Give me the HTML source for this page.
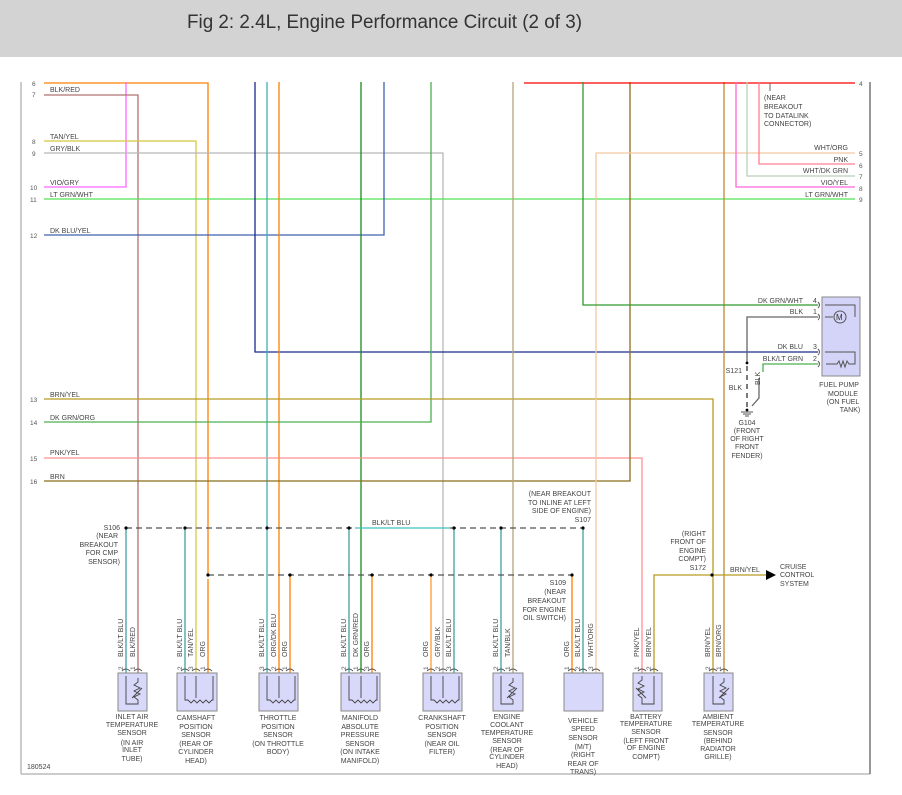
<!DOCTYPE html>
<html><head><meta charset="utf-8"><style>
body{margin:0;background:#fff;}
svg{display:block;font-family:"Liberation Sans",sans-serif;}
.t{font-size:7px;fill:#444;}
.n{font-size:6.5px;fill:#555;}
.s{font-size:7px;fill:#444;text-anchor:middle;}
</style></head><body>
<svg width="902" height="795" viewBox="0 0 902 795" xmlns="http://www.w3.org/2000/svg">
<rect x="0" y="0" width="902" height="57" fill="#d3d3d3"/>
<text x="187" y="28" font-size="19" fill="#333" style="font-family:'Liberation Sans Narrow','Liberation Sans',sans-serif" textLength="395" lengthAdjust="spacingAndGlyphs">Fig 2: 2.4L, Engine Performance Circuit (2 of 3)</text>
<!-- frame -->
<line x1="21" y1="82" x2="21" y2="774" stroke="#bbb" stroke-width="1.5"/>
<line x1="21" y1="774" x2="870" y2="774" stroke="#bbb" stroke-width="1.5"/>
<line x1="870" y1="82" x2="870" y2="774" stroke="#555" stroke-width="1.2"/>
<g fill="none" stroke-width="1.3">
<!-- left rows -->
<polyline points="44,83 208,83 208,575" stroke="#ff8000"/>
<polyline points="208,579 208,673" stroke="#ff8000"/>
<polyline points="126,82 126,187 44,187" stroke="#ff66ff"/>
<polyline points="44,95 138,95 138,673" stroke="#b07070"/>
<polyline points="44,141 196,141 196,673" stroke="#d8c840"/>
<polyline points="44,153 443,153 443,673" stroke="#b8b8b8"/>
<line x1="44" y1="199" x2="855" y2="199" stroke="#55e055"/>
<polyline points="44,235 384,235 384,82" stroke="#4060b0"/>
<polyline points="255,82 255,352 818,352" stroke="#1a2a8a"/>
<line x1="267" y1="82" x2="267" y2="673" stroke="#40b0b0"/>
<line x1="279" y1="82" x2="279" y2="673" stroke="#ff8000"/>
<line x1="361" y1="82" x2="361" y2="673" stroke="#1a8a1a"/>
<polyline points="431,82 431,422 44,422" stroke="#4caf50"/>
<polyline points="44,399 713,399 713,673" stroke="#b89a20"/>
<polyline points="44,458 642,458 642,673" stroke="#ff9090"/>
<polyline points="44,481 630,481 630,82" stroke="#8a6d1a"/>
<line x1="513" y1="82" x2="513" y2="673" stroke="#b5a57a"/>
<polyline points="596,673 596,153 855,153" stroke="#f5c8a0"/>
<line x1="724" y1="82" x2="724" y2="673" stroke="#c08a30"/>
<!-- right rows -->
<line x1="524" y1="83" x2="855" y2="83" stroke="#ff0000"/>
<polyline points="583,82 583,305 818,305" stroke="#2e9a2e"/>
<polyline points="736,82 736,187 855,187" stroke="#ff66dd"/>
<polyline points="747,82 747,176 855,176" stroke="#b8d0b8"/>
<polyline points="759,82 759,164 855,164" stroke="#ff8090"/>
<line x1="770" y1="83" x2="770" y2="91" stroke="#666" stroke-width="1"/>
<!-- fuel pump -->
<polyline points="818,317 747,317 747,362" stroke="#666"/>
<line x1="747" y1="366" x2="747" y2="408" stroke="#333" stroke-dasharray="5,4"/>
<polyline points="818,364 763,364 763,372" stroke="#4caf50"/>
<polyline points="759,378 759,398 752,406" stroke="#666"/>
<!-- bottom verticals -->
<line x1="126" y1="528" x2="126" y2="673" stroke="#40a0a0"/>
<line x1="185" y1="528" x2="185" y2="673" stroke="#40a0a0"/>
<line x1="290" y1="575" x2="290" y2="673" stroke="#ff8000"/>
<line x1="349" y1="528" x2="349" y2="673" stroke="#40a0a0"/>
<line x1="372" y1="575" x2="372" y2="673" stroke="#ff8000"/>
<line x1="431" y1="575" x2="431" y2="673" stroke="#ff9a30"/>
<line x1="454" y1="528" x2="454" y2="673" stroke="#40a0a0"/>
<line x1="501" y1="528" x2="501" y2="673" stroke="#40a0a0"/>
<line x1="572" y1="575" x2="572" y2="673" stroke="#ff8000"/>
<line x1="583" y1="528" x2="583" y2="673" stroke="#40a0a0"/>
<polyline points="654,673 654,575 767,575" stroke="#b89a20"/>
<!-- buses -->
<line x1="126" y1="528" x2="355" y2="528" stroke="#555" stroke-dasharray="6,4"/>
<line x1="355" y1="528" x2="450" y2="528" stroke="#40c0c0"/>
<line x1="450" y1="528" x2="583" y2="528" stroke="#555" stroke-dasharray="6,4"/>
<line x1="208" y1="575" x2="572" y2="575" stroke="#555" stroke-dasharray="6,4"/>
</g>
<polygon points="766,570 776,575 766,580" fill="#000"/>
<g fill="#000">
<circle cx="126" cy="528" r="1.6"/><circle cx="185" cy="528" r="1.6"/><circle cx="267" cy="528" r="1.6"/><circle cx="349" cy="528" r="1.6"/><circle cx="454" cy="528" r="1.6"/><circle cx="501" cy="528" r="1.6"/><circle cx="583" cy="528" r="1.6"/>
<circle cx="208" cy="575" r="1.6"/><circle cx="290" cy="575" r="1.6"/><circle cx="372" cy="575" r="1.6"/><circle cx="431" cy="575" r="1.6"/><circle cx="572" cy="575" r="1.6"/><circle cx="712" cy="575" r="1.6"/>
<circle cx="747" cy="363" r="1.4"/><circle cx="747" cy="410" r="1.4"/>
</g>
<path d="M741 412h12M743 414h8M745 416h4" stroke="#555" stroke-width="1"/>
<!-- fuel pump module -->
<rect x="822" y="297" width="38" height="79" fill="#d4d4f8" stroke="#888"/>
<g fill="none" stroke="#555" stroke-width="1">
<path d="M825 305h30v12M825 317h8"/>
<circle cx="840" cy="317" r="6"/>
<path d="M825 352h30v12h-6l-2-3-2 6-2-6-2 6-2-6-2 3h-11"/>
<path d="M818 302q3 3 0 6M818 314q3 3 0 6M818 349q3 3 0 6M818 361q3 3 0 6"/>
</g>
<text x="836" y="320" font-size="8" fill="#333">M</text>
<!-- left row numbers & labels -->
<g class="n">
<text x="32" y="86">6</text><text x="32" y="97">7</text><text x="32" y="144">8</text><text x="32" y="156">9</text><text x="30" y="190">10</text><text x="30" y="202">11</text><text x="30" y="238">12</text><text x="30" y="402">13</text><text x="30" y="425">14</text><text x="30" y="461">15</text><text x="30" y="484">16</text>
<text x="859" y="86">4</text><text x="859" y="156">5</text><text x="859" y="168">6</text><text x="859" y="179">7</text><text x="859" y="191">8</text><text x="859" y="202">9</text>
</g>
<g class="t">
<text x="50" y="92">BLK/RED</text><text x="50" y="139">TAN/YEL</text><text x="50" y="151">GRY/BLK</text><text x="50" y="185">VIO/GRY</text><text x="50" y="197">LT GRN/WHT</text><text x="50" y="233">DK BLU/YEL</text>
<text x="50" y="397">BRN/YEL</text><text x="50" y="420">DK GRN/ORG</text><text x="50" y="455">PNK/YEL</text><text x="50" y="479">BRN</text>
<g text-anchor="end"><text x="848" y="150">WHT/ORG</text><text x="848" y="162">PNK</text><text x="848" y="173">WHT/DK GRN</text><text x="848" y="185">VIO/YEL</text><text x="848" y="197">LT GRN/WHT</text>
<text x="803" y="303">DK GRN/WHT</text><text x="803" y="314">BLK</text><text x="803" y="349">DK BLU</text><text x="803" y="361">BLK/LT GRN</text>
<text x="742" y="373">S121</text><text x="742" y="390">BLK</text>
<text x="591" y="496">(NEAR BREAKOUT</text><text x="591" y="505">TO INLINE AT LEFT</text><text x="591" y="513">SIDE OF ENGINE)</text><text x="591" y="522">S107</text>
<text x="566" y="585">S109</text><text x="566" y="594">(NEAR</text><text x="566" y="603">BREAKOUT</text><text x="566" y="612">FOR ENGINE</text><text x="566" y="620">OIL SWITCH)</text>
<text x="706" y="536">(RIGHT</text><text x="706" y="544">FRONT OF</text><text x="706" y="553">ENGINE</text><text x="706" y="561">COMPT)</text><text x="706" y="570">S172</text>
<text x="120" y="530">S106</text><text x="118" y="538">(NEAR</text><text x="118" y="547">BREAKOUT</text><text x="118" y="555">FOR CMP</text><text x="120" y="564">SENSOR)</text>
</g>
<text x="813" y="303">4</text><text x="813" y="314">1</text><text x="813" y="349">3</text><text x="813" y="361">2</text>
<text x="764" y="100">(NEAR</text><text x="764" y="109">BREAKOUT</text><text x="764" y="118">TO DATALINK</text><text x="764" y="126">CONNECTOR)</text>
<text x="372" y="525">BLK/LT BLU</text>
<text x="730" y="572">BRN/YEL</text>
<text x="780" y="569">CRUISE</text><text x="780" y="577">CONTROL</text><text x="780" y="586">SYSTEM</text>
<text x="27" y="769" font-size="7">180524</text>
</g>
<g class="s">
<text x="839" y="387">FUEL PUMP</text><text x="843" y="396">MODULE</text><text x="843" y="404">(ON FUEL</text><text x="850" y="412">TANK)</text>
<text x="747" y="425">G104</text><text x="747" y="433">(FRONT</text><text x="747" y="441">OF RIGHT</text><text x="747" y="449">FRONT</text><text x="747" y="458">FENDER)</text>
</g>
<!-- sensors -->
<g fill="#d8d8fa" stroke="#888" stroke-width="1">
<rect x="118" y="673" width="29" height="38"/><rect x="177" y="673" width="40" height="38"/><rect x="259" y="673" width="39" height="38"/><rect x="341" y="673" width="39" height="38"/><rect x="423" y="673" width="39" height="38"/><rect x="493" y="673" width="30" height="38"/><rect x="564" y="673" width="39" height="38"/><rect x="633" y="673" width="29" height="38"/><rect x="704" y="673" width="29" height="38"/>
</g>
<g fill="none" stroke="#444" stroke-width="0.9">
<path d="M126 676v28h12v-4l-4-3 6-3-6-3 6-3-6-3 4-3v-4M132 698l10-10"/>
<path d="M501 676v28h12v-4l-4-3 6-3-6-3 6-3-6-3 4-3v-4M507 698l10-10"/>
<path d="M642 676v4l-4 3 6 3-6 3 6 3-6 3 4 3v6h12v-28M636 688l10 10"/>
<path d="M713 676v28h11v-4l-4-3 6-3-6-3 6-3-6-3 4-3v-4M719 698l10-10"/>
<path d="M185 676v24h3l3 3 3-3 3 3 3-3 3 3 3-3 3 3 3-3h1v-24M196 676v22"/>
<path d="M267 676v24h3l3 3 3-3 3 3 3-3 3 3 3-3 3 3 3-3h1v-24M279 676v22"/>
<path d="M349 676v24h3l3 3 3-3 3 3 3-3 3 3 3-3 3 3 3-3h1v-24M361 676v22"/>
<path d="M431 676v24h3l3 3 3-3 3 3 3-3 3 3 3-3 3 3 3-3h1v-24M443 676v22"/>
<g stroke="#555">
<path d="M122 671q4-4 8 0M134 671q4-4 8 0M181 671q4-4 8 0M192 671q4-4 8 0M204 671q4-4 8 0M263 671q4-4 8 0M275 671q4-4 8 0M286 671q4-4 8 0M345 671q4-4 8 0M357 671q4-4 8 0M368 671q4-4 8 0M427 671q4-4 8 0M439 671q4-4 8 0M450 671q4-4 8 0M497 671q4-4 8 0M509 671q4-4 8 0M568 671q4-4 8 0M579 671q4-4 8 0M592 671q4-4 8 0M638 671q4-4 8 0M650 671q4-4 8 0M709 671q4-4 8 0M720 671q4-4 8 0"/>
</g>
</g>
<!-- vertical wire labels -->
<g class="t" font-size="6.8">
<text transform="translate(123,657) rotate(-90)">BLK/LT BLU</text><text transform="translate(135,657) rotate(-90)">BLK/RED</text>
<text transform="translate(182,657) rotate(-90)">BLK/LT BLU</text><text transform="translate(193,657) rotate(-90)">TAN/YEL</text><text transform="translate(205,657) rotate(-90)">ORG</text>
<text transform="translate(264,657) rotate(-90)">BLK/LT BLU</text><text transform="translate(276,657) rotate(-90)">ORG/DK BLU</text><text transform="translate(287,657) rotate(-90)">ORG</text>
<text transform="translate(346,657) rotate(-90)">BLK/LT BLU</text><text transform="translate(358,657) rotate(-90)">DK GRN/RED</text><text transform="translate(369,657) rotate(-90)">ORG</text>
<text transform="translate(428,657) rotate(-90)">ORG</text><text transform="translate(440,657) rotate(-90)">GRY/BLK</text><text transform="translate(451,657) rotate(-90)">BLK/LT BLU</text>
<text transform="translate(498,657) rotate(-90)">BLK/LT BLU</text><text transform="translate(510,657) rotate(-90)">TAN/BLK</text>
<text transform="translate(569,657) rotate(-90)">ORG</text><text transform="translate(580,657) rotate(-90)">BLK/LT BLU</text><text transform="translate(593,657) rotate(-90)">WHT/ORG</text>
<text transform="translate(639,657) rotate(-90)">PNK/YEL</text><text transform="translate(651,657) rotate(-90)">BRN/YEL</text>
<text transform="translate(710,657) rotate(-90)">BRN/YEL</text><text transform="translate(721,657) rotate(-90)">BRN/ORG</text>
<text transform="translate(760,385) rotate(-90)">BLK</text>
</g>
<g class="n" font-size="6">
<text transform="translate(123,670) rotate(-90)">2</text><text transform="translate(135,670) rotate(-90)">1</text>
<text transform="translate(182,670) rotate(-90)">2</text><text transform="translate(193,670) rotate(-90)">3</text><text transform="translate(205,670) rotate(-90)">1</text>
<text transform="translate(264,670) rotate(-90)">3</text><text transform="translate(276,670) rotate(-90)">2</text><text transform="translate(287,670) rotate(-90)">1</text>
<text transform="translate(346,670) rotate(-90)">2</text><text transform="translate(358,670) rotate(-90)">1</text><text transform="translate(369,670) rotate(-90)">3</text>
<text transform="translate(428,670) rotate(-90)">1</text><text transform="translate(440,670) rotate(-90)">2</text><text transform="translate(451,670) rotate(-90)">3</text>
<text transform="translate(498,670) rotate(-90)">2</text><text transform="translate(510,670) rotate(-90)">1</text>
<text transform="translate(569,670) rotate(-90)">1</text><text transform="translate(580,670) rotate(-90)">2</text><text transform="translate(593,670) rotate(-90)">3</text>
<text transform="translate(639,670) rotate(-90)">1</text><text transform="translate(651,670) rotate(-90)">2</text>
<text transform="translate(710,670) rotate(-90)">2</text><text transform="translate(721,670) rotate(-90)">1</text>
</g>
<!-- sensor names -->
<g class="s">
<text x="132" y="719">INLET AIR</text><text x="132" y="727">TEMPERATURE</text><text x="132" y="735">SENSOR</text><text x="132" y="745">(IN AIR</text><text x="132" y="752">INLET</text><text x="132" y="761">TUBE)</text>
<text x="196" y="720">CAMSHAFT</text><text x="196" y="729">POSITION</text><text x="196" y="737">SENSOR</text><text x="196" y="746">(REAR OF</text><text x="196" y="754">CYLINDER</text><text x="196" y="763">HEAD)</text>
<text x="278" y="720">THROTTLE</text><text x="278" y="729">POSITION</text><text x="278" y="737">SENSOR</text><text x="278" y="746">(ON THROTTLE</text><text x="278" y="754">BODY)</text>
<text x="360" y="720">MANIFOLD</text><text x="360" y="729">ABSOLUTE</text><text x="360" y="737">PRESSURE</text><text x="360" y="746">SENSOR</text><text x="360" y="754">(ON INTAKE</text><text x="360" y="763">MANIFOLD)</text>
<text x="442" y="720">CRANKSHAFT</text><text x="442" y="729">POSITION</text><text x="442" y="737">SENSOR</text><text x="442" y="746">(NEAR OIL</text><text x="442" y="754">FILTER)</text>
<text x="507" y="719">ENGINE</text><text x="507" y="727">COOLANT</text><text x="507" y="735">TEMPERATURE</text><text x="507" y="743">SENSOR</text><text x="507" y="752">(REAR OF</text><text x="507" y="759">CYLINDER</text><text x="507" y="768">HEAD)</text>
<text x="583" y="723">VEHICLE</text><text x="583" y="731">SPEED</text><text x="583" y="740">SENSOR</text><text x="583" y="749">(M/T)</text><text x="583" y="757">(RIGHT</text><text x="583" y="766">REAR OF</text><text x="583" y="774">TRANS)</text>
<text x="646" y="719">BATTERY</text><text x="646" y="726">TEMPERATURE</text><text x="646" y="734">SENSOR</text><text x="646" y="743">(LEFT FRONT</text><text x="646" y="750">OF ENGINE</text><text x="646" y="759">COMPT)</text>
<text x="718" y="719">AMBIENT</text><text x="718" y="726">TEMPERATURE</text><text x="718" y="735">SENSOR</text><text x="718" y="743">(BEHIND</text><text x="718" y="751">RADIATOR</text><text x="718" y="759">GRILLE)</text>
</g>
</svg>
</body></html>
